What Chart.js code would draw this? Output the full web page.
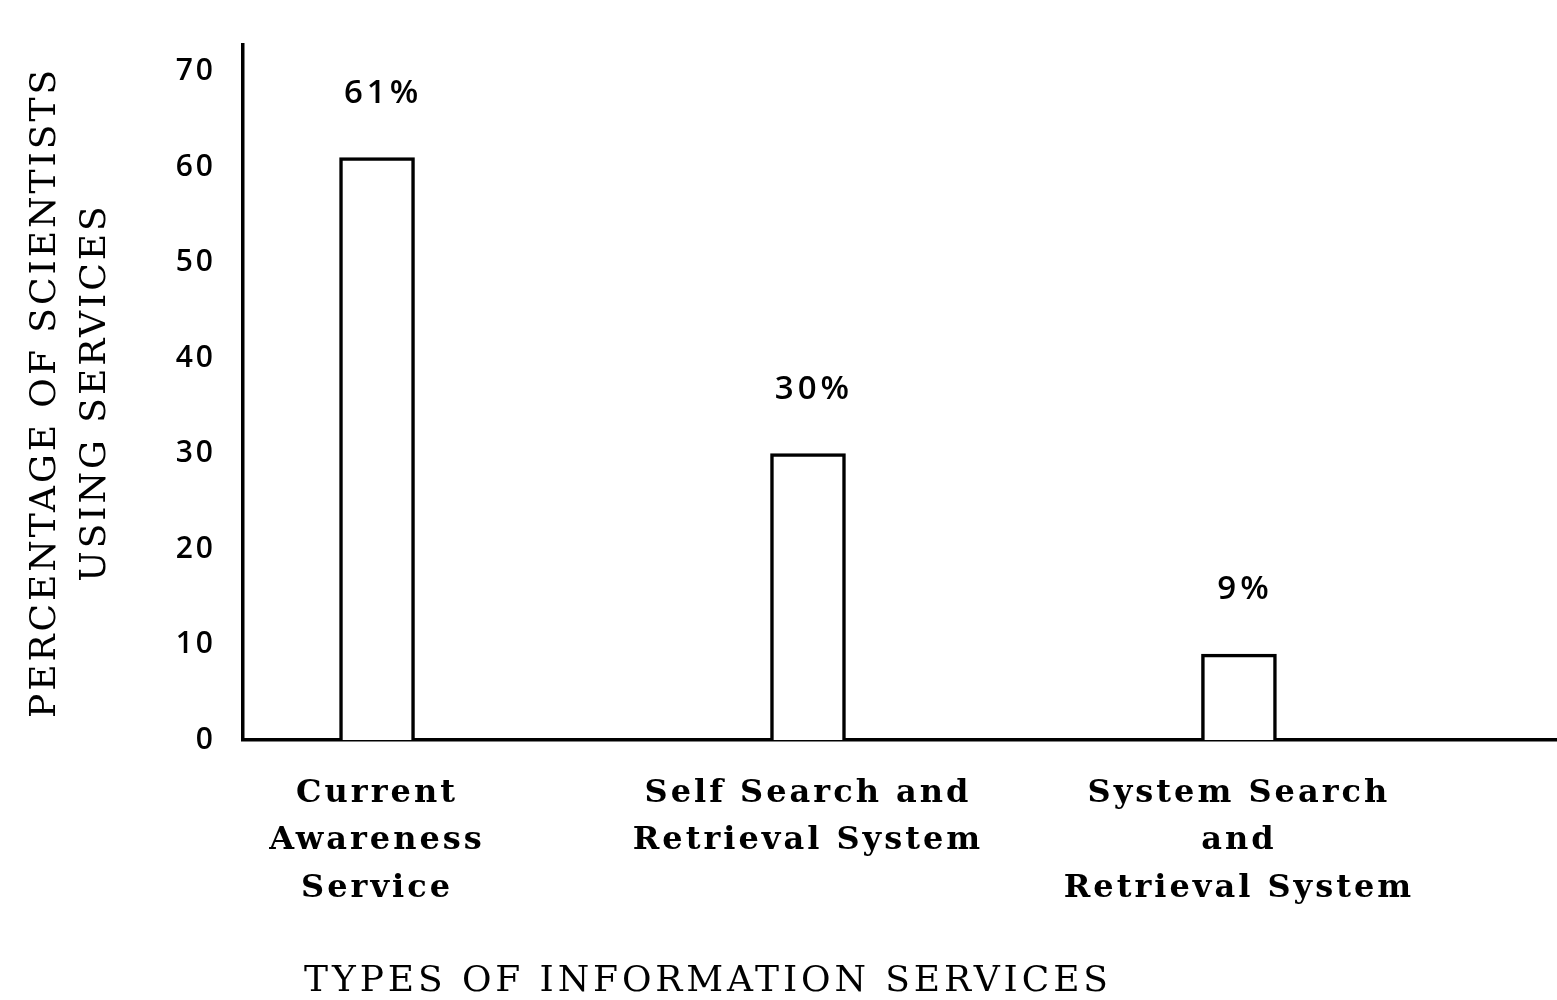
<!DOCTYPE html>
<html>
<head>
<meta charset="utf-8">
<script src="https://cdn.jsdelivr.net/npm/chart.js@4.4.0/dist/chart.umd.min.js"></script>
<style>
  body { margin: 0; background: #fff; }
  #boite { width: 1557px; height: 1000px; }
</style>
</head>
<body>
<div id="boite"><canvas id="canvas"></canvas></div>
<script>
// donnees
var categories = [["Current", "Awareness", "Service"], ["Self Search and", "Retrieval System"], ["System Search", "and", "Retrieval System"]];
var positions = [1, 2, 3];
var pourcentages = [61, 30, 9];
var etiquettesPct = ["61%", "30%", "9%"];
var yTicks = [0, 10, 20, 30, 40, 50, 60, 70];
var titreY = ["PERCENTAGE OF SCIENTISTS", "USING SERVICES"];
var titreX = "TYPES OF INFORMATION SERVICES";

var police = "'DejaVu Serif', 'Liberation Serif', serif";
var policeChiffres = "'Open Sans', 'DejaVu Sans', sans-serif";
var espace = "3px";

var points = [];
for (var i = 0; i < positions.length; i++) {
  points.push({x: positions[i], y: pourcentages[i]});
}

// espacement des lettres (le canvas est remis a zero au resize)
var espacement = {
  id: 'espacement',
  beforeUpdate: function(chart) { chart.ctx.letterSpacing = espace; },
  beforeDraw: function(chart) { chart.ctx.letterSpacing = espace; }
};

// pourcentages au-dessus des barres + titre de l'axe x
var textes = {
  id: 'textes',
  afterDraw: function(chart) {
    var ctx = chart.ctx;
    var meta = chart.getDatasetMeta(0);
    ctx.save();
    ctx.fillStyle = "#000";
    ctx.textAlign = "center";
    ctx.textBaseline = "middle";
    ctx.letterSpacing = "4px";
    ctx.font = "600 33px " + policeChiffres;
    for (var j = 0; j < meta.data.length; j++) {
      ctx.fillText(etiquettesPct[j], meta.data[j].x + 6, meta.data[j].y - 64);
    }
    ctx.letterSpacing = "3.9px";
    ctx.font = "36px " + police;
    ctx.fillText(titreX, chart.chartArea.left + 465, 982);
    ctx.restore();
  }
};

var config = {
  type: 'bar',
  data: {
    datasets: [{
      data: points,
      backgroundColor: "#fff",
      borderColor: "#000",
      borderWidth: 3.5,
      barThickness: 75
    }]
  },
  options: {
    responsive: true,
    maintainAspectRatio: false,
    animation: false,
    layout: { padding: { top: 43, right: 0, left: 0, bottom: 0 } },
    plugins: { legend: { display: false }, tooltip: { enabled: false } },
    scales: {
      x: {
        type: 'linear',
        offset: false,
        min: 0.689,
        max: 3.738,
        grid: { display: false, drawTicks: false },
        border: { display: true, color: "#000", width: 3.5 },
        afterBuildTicks: function(axis) {
          axis.ticks = positions.map(function(p) { return {value: p}; });
        },
        afterFit: function(axis) { axis.height = 260; },
        ticks: {
          color: "#000",
          padding: 30,
          maxRotation: 0,
          autoSkip: false,
          font: { family: police, size: 32, weight: 'bold', lineHeight: 1.48 },
          callback: function(v) { return categories[positions.indexOf(v)]; }
        }
      },
      y: {
        min: 0,
        max: 72.8,
        grid: { display: false, drawTicks: false },
        border: { display: true, color: "#000", width: 3.5 },
        afterBuildTicks: function(axis) {
          axis.ticks = yTicks.map(function(v) { return {value: v}; });
        },
        afterFit: function(axis) { axis.width = 243; },
        ticks: {
          color: "#000",
          padding: 27,
          font: { family: policeChiffres, size: 30, weight: '600' }
        },
        title: {
          display: true,
          text: titreY,
          color: "#000",
          padding: { top: 20, bottom: 0 },
          font: { family: police, size: 36, lineHeight: 1.4 }
        }
      }
    }
  },
  plugins: [espacement, textes]
};

window.onload = function() {
  window.monGraphique = new Chart(document.getElementById("canvas"), config);
};
</script>
</body>
</html>
